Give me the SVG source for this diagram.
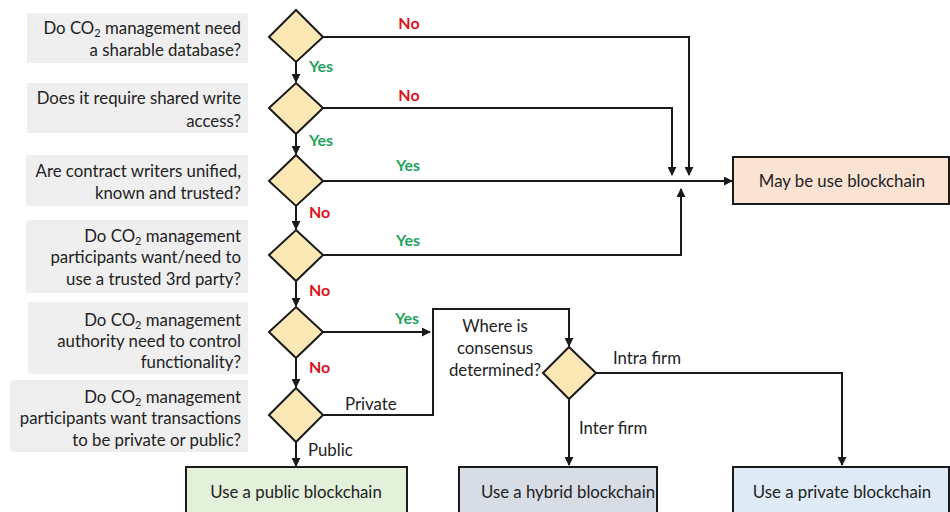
<svg xmlns="http://www.w3.org/2000/svg" width="950" height="512" viewBox="0 0 950 512">
<style>
text{font-family:Lato,"Open Sans","Liberation Sans",sans-serif;font-size:16.8px;fill:#222}
.q{text-anchor:end}
.qb{fill:#efefef}
.d{fill:#fce8b4;stroke:#1a1a1a;stroke-width:2}
.box{stroke:#1a1a1a;stroke-width:2}
.c{fill:none;stroke:#1a1a1a;stroke-width:2}
.no{fill:#d9141e;font-weight:bold;font-size:16px}
.yes{fill:#1fa35a;font-weight:bold;font-size:16px}
.m{text-anchor:middle}
.sub{font-size:11px}
</style>
<defs>
<marker id="ah" viewBox="0 0 10 10" refX="9" refY="5" markerWidth="4.5" markerHeight="4.5" orient="auto" markerUnits="strokeWidth">
<path d="M0,0 L10,5 L0,10 z" fill="#1a1a1a"/>
</marker>
</defs>

<g id="q1"><rect class="qb" x="27" y="13" width="221" height="50"/>
<text class="q" x="241" y="34">Do CO<tspan class="sub" baseline-shift="-3">2</tspan> management need</text>
<text class="q" x="241" y="56">a sharable database?</text></g>
<g id="q2"><rect class="qb" x="27" y="83" width="221" height="50"/>
<text class="q" x="241" y="104">Does it require shared write</text>
<text class="q" x="241" y="127">access?</text></g>
<g id="q3"><rect class="qb" x="26" y="155" width="222" height="51"/>
<text class="q" x="241" y="177">Are contract writers unified,</text>
<text class="q" x="241" y="199">known and trusted?</text></g>
<g id="q4"><rect class="qb" x="26" y="220" width="222" height="73"/>
<text class="q" x="241" y="242">Do CO<tspan class="sub" baseline-shift="-3">2</tspan> management</text>
<text class="q" x="241" y="263">participants want/need to</text>
<text class="q" x="241" y="285">use a trusted 3rd party?</text></g>
<g id="q5"><rect class="qb" x="28" y="302" width="220" height="72"/>
<text class="q" x="241" y="326">Do CO<tspan class="sub" baseline-shift="-3">2</tspan> management</text>
<text class="q" x="241" y="347">authority need to control</text>
<text class="q" x="241" y="368">functionality?</text></g>
<g id="q6"><rect class="qb" x="10" y="380" width="238" height="72"/>
<text class="q" x="241" y="403">Do CO<tspan class="sub" baseline-shift="-3">2</tspan> management</text>
<text class="q" x="241" y="424">participants want transactions</text>
<text class="q" x="241" y="446">to be private or public?</text></g>

<g id="connectors">
<path class="c" d="M296,62 V82" marker-end="url(#ah)"/>
<path class="c" d="M296,134 V154" marker-end="url(#ah)"/>
<path class="c" d="M296,206 V229" marker-end="url(#ah)"/>
<path class="c" d="M296,281 V306" marker-end="url(#ah)"/>
<path class="c" d="M296,358 V387" marker-end="url(#ah)"/>
<path class="c" d="M296,442 V466" marker-end="url(#ah)"/>
<path class="c" d="M323,37 H689 V175" marker-end="url(#ah)"/>
<path class="c" d="M323,108 H672 V175" marker-end="url(#ah)"/>
<path class="c" d="M323,181 H732" marker-end="url(#ah)"/>
<path class="c" d="M323,255 H681 V189" marker-end="url(#ah)"/>
<path class="c" d="M323,332 H430" marker-end="url(#ah)"/>
<path class="c" d="M323,415 H433 V309 H569 V346" marker-end="url(#ah)"/>
<path class="c" d="M596,373 H842 V465" marker-end="url(#ah)"/>
<path class="c" d="M569,399 V465" marker-end="url(#ah)"/>
</g>

<g id="d1"><polygon class="d" points="296,10 323,37 296,62 269,37"/></g>
<g id="d2"><polygon class="d" points="296,83 323,108 296,134 269,108"/></g>
<g id="d3"><polygon class="d" points="296,155 323,181 296,206 269,181"/></g>
<g id="d4"><polygon class="d" points="296,230 323,255 296,281 269,255"/></g>
<g id="d5"><polygon class="d" points="296,307 323,332 296,358 269,332"/></g>
<g id="d6"><polygon class="d" points="296,388 323,415 296,442 269,415"/></g>
<g id="d7"><polygon class="d" points="569,347 596,373 569,399 543,373"/>
<text class="m" x="495" y="332">Where is</text>
<text class="m" x="495" y="354">consensus</text>
<text class="m" x="495" y="376">determined?</text></g>

<g id="labels">
<text class="no m" x="409" y="29">No</text>
<text class="yes" x="309" y="72">Yes</text>
<text class="no m" x="409" y="101">No</text>
<text class="yes" x="309" y="146">Yes</text>
<text class="yes m" x="408" y="171">Yes</text>
<text class="no" x="309" y="218">No</text>
<text class="yes m" x="408" y="246">Yes</text>
<text class="no" x="309" y="296">No</text>
<text class="yes m" x="407" y="324">Yes</text>
<text class="no" x="309" y="373">No</text>
<text x="345" y="410">Private</text>
<text x="308" y="456">Public</text>
<text x="613" y="364">Intra firm</text>
<text x="579" y="434">Inter firm</text>
</g>

<g id="maybe"><rect class="box" x="733" y="157" width="216" height="47" fill="#fbe3d3"/>
<text class="m" x="842" y="187">May be use blockchain</text></g>
<g id="public"><rect class="box" x="186" y="467" width="221" height="50" fill="#e3f0da"/>
<text class="m" x="296" y="498">Use a public blockchain</text></g>
<g id="hybrid"><rect class="box" x="459" y="467" width="198" height="50" fill="#d7dce5"/>
<text class="m" x="568" y="498">Use a hybrid blockchain</text></g>
<g id="private"><rect class="box" x="733" y="467" width="216" height="50" fill="#deebf7"/>
<text class="m" x="842" y="498">Use a private blockchain</text></g>
</svg>
